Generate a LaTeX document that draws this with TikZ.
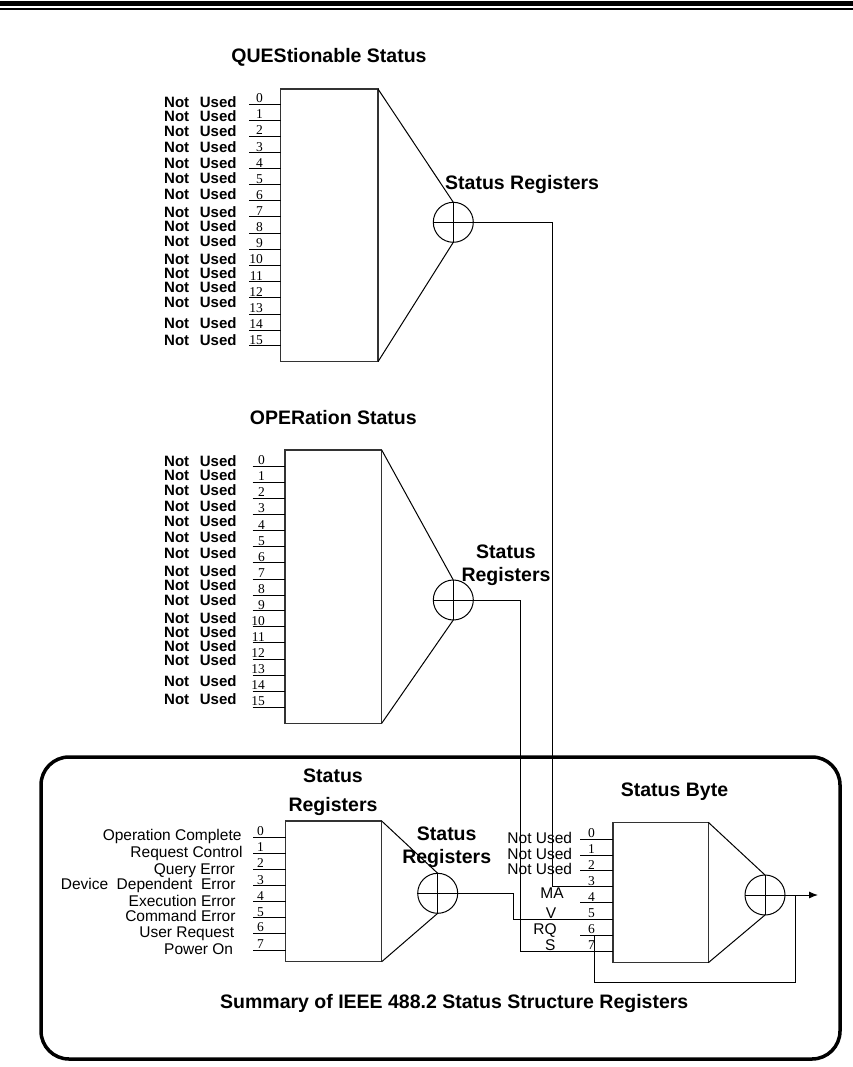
\documentclass[tikz,border=0pt]{standalone}
\usepackage{fontspec}
\setmainfont{Liberation Sans}
\newfontfamily\digitfont{Liberation Serif}
\usetikzlibrary{arrows.meta}
\begin{document}
\begin{tikzpicture}[x=1pt,y=-1pt,
  regbox/.style={draw, line width=1.1pt, draw=black!80, inner sep=0, outer sep=0, anchor=north west},
  xorc/.style={draw, circle, line width=1pt, minimum size=40pt, inner sep=0, outer sep=0,
    path picture={\draw[line width=1pt] (path picture bounding box.north) -- (path picture bounding box.south)
      (path picture bounding box.west) -- (path picture bounding box.east);}},
  wire/.style={line width=1pt},
  nulbl/.style={font=\fontsize{15}{18}\selectfont\bfseries, inner sep=0, anchor=west},
  evlbl/.style={font=\fontsize{15.5}{18}\selectfont, inner sep=0, anchor=base east},
  sblbl/.style={font=\fontsize{15.5}{18}\selectfont, inner sep=0, anchor=base},
  bitnum/.style={font=\digitfont\fontsize{13.5}{15}\selectfont, inner sep=0, anchor=base east},
  ttl/.style={font=\fontsize{19.5}{23}\selectfont\bfseries, inner sep=0, anchor=base}
]
\useasboundingbox (0,0) rectangle (853,1067);
% top double rule
\fill[black] (0,1) rectangle (853,6);
\fill[black] (0,7.6) rectangle (853,10);

% ================= QUEStionable =================
\node[ttl] (qttl) at (329,62.5) {QUEStionable Status};
\node[regbox, minimum width=97.3pt, minimum height=272.7pt] (qbox) at (280.7,89) {};
\foreach \i/\ly/\ty in {0/104.3/102.5,1/120.3/116.2,2/136.3/131.2,3/152.7/147,4/169/162.7,5/185/178.5,
  6/201/194.3,7/217/212.3,8/233.3/226.3,9/249/241,10/265/259,11/281.7/273,12/297.7/287.3,
  13/314/301.9,14/330/322.7,15/345.7/340}{
  \coordinate (qin\i) at (249,\ly);
  \draw[wire] (qin\i) -- (qin\i -| qbox.west);
  \node[bitnum] (qn\i) at (263,\ly-1.5) {\i};
  \node[nulbl] (ql\i) at (164,\ty) {Not\hspace{10.7pt}Used};
}
\node[xorc] (qc) at (453.3,222.3) {};
\draw[wire] (qbox.north east) -- (qc.north);
\draw[wire] (qc.south) -- (qbox.south east);
\node[ttl, anchor=base west] (qsr) at (445,190) {Status Registers};

% ================= OPERation =================
\node[ttl] (ottl) at (333.3,424) {OPERation Status};
\node[regbox, minimum width=96.7pt, minimum height=273.3pt] (obox) at (285,450) {};
\foreach \i/\ly/\ty in {0/466/461.3,1/482/474.7,2/498/489.7,3/514.3/505.7,4/530.7/521.3,5/546.7/537.3,
  6/562.7/553,7/579/571.3,8/595/585.3,9/610.7/599.7,10/626.7/618.3,11/642.7/631.7,12/659/646.2,
  13/675/659.9,14/691/681,15/707/699.3}{
  \coordinate (oin\i) at (252.7,\ly);
  \draw[wire] (oin\i) -- (oin\i -| obox.west);
  \node[bitnum] (on\i) at (265,\ly-1.5) {\i};
  \node[nulbl] (ol\i) at (164,\ty) {Not\hspace{10.7pt}Used};
}
\node[xorc] (oc) at (453.3,600) {};
\draw[wire] (obox.north east) -- (oc.north);
\draw[wire] (oc.south) -- (obox.south east);
\node[ttl] (osr1) at (506,558.3) {Status};
\node[ttl] (osr2) at (506,581) {Registers};

% ================= frame =================
\draw[line width=3.5pt, rounded corners=28pt] (41,757) rectangle (840,1059);

% ================= Standard Event =================
\node[ttl] (ettl1) at (333,782.3) {Status};
\node[ttl] (ettl2) at (333,811) {Registers};
\node[regbox, minimum width=96pt, minimum height=140.7pt] (ebox) at (285.7,821) {};
\foreach \i/\ly/\tx/\ty/\txt in {0/837.3/241.7/840.7/Operation Complete,1/853.3/242.7/857.3/Request Control,
  2/869/235/874/Query Error,3/885.7/235.7/889/Device\hspace{8.5pt}Dependent\hspace{8.5pt}Error,
  4/901.7/235.7/906/Execution Error,5/917.7/235.7/921/Command Error,6/933.3/234.3/937.7/User Request,
  7/950/233.3/954.7/Power On}{
  \coordinate (ein\i) at (253,\ly);
  \draw[wire] (ein\i) -- (ein\i -| ebox.west);
  \node[bitnum] (en\i) at (264,\ly-1.5) {\i};
  \node[evlbl] (el\i) at (\tx,\ty) {\txt};
}
\node[xorc] (ec) at (437.7,893.3) {};
\draw[wire] (ebox.north east) -- (ec.north);
\draw[wire] (ec.south) -- (ebox.south east);
\node[ttl] (esr1) at (446.7,840) {Status};
\node[ttl] (esr2) at (446.7,863) {Registers};

% ================= Status Byte =================
\node[ttl] (sbttl) at (674.5,796) {Status Byte};
\node[regbox, minimum width=95.3pt, minimum height=140.4pt] (sbox) at (613,822.3) {};
\foreach \i/\ly in {0/839,1/855,2/870.7,3/886.7,4/902.7,5/919,6/935,7/951}{
  \coordinate (sin\i) at (580,\ly);
  \draw[wire] (sin\i) -- (sin\i -| sbox.west);
  \node[bitnum] (sn\i) at (595,\ly-1.5) {\i};
}
\node[sblbl, anchor=base east] (sl0) at (572.3,843.3) {Not Used};
\node[sblbl, anchor=base east] (sl1) at (572.3,859) {Not Used};
\node[sblbl, anchor=base east] (sl2) at (572.3,874.7) {Not Used};
\node[sblbl] (sl3) at (552,898) {MA};
\node[sblbl] (sl4) at (551,918) {V};
\node[sblbl] (sl5) at (545,934) {RQ};
\node[sblbl] (sl6) at (550.3,950) {S};
\node[xorc] (sc) at (765,895) {};
\draw[wire] (sbox.north east) -- (sc.north);
\draw[wire] (sc.south) -- (sbox.south east);
\coordinate (sbout) at (818,895);
\draw[wire, -{Latex[length=9pt,width=7pt]}] (sc.east) -- (sbout);
\coordinate (fb1) at (795,895);
\coordinate (fb2) at (594.3,982);
\draw[wire] (fb1) |- (fb2) |- (sin6 -| fb2);

% ================= connectors =================
\coordinate (qv) at (552,222.3);
\draw[wire] (qc.east) -- (qv) |- (sin3 -| sbox.west);
\coordinate (ov) at (520.7,600);
\draw[wire] (oc.east) -- (ov) |- (sin7 -| sbox.west);
\coordinate (ev) at (513.3,893.3);
\draw[wire] (ec.east) -- (ev) |- (sin5 -| sbox.west);

% ================= summary =================
\node[ttl, anchor=base west] (summ) at (220,1008) {Summary of IEEE 488.2 Status Structure Registers};
\end{tikzpicture}
\end{document}
